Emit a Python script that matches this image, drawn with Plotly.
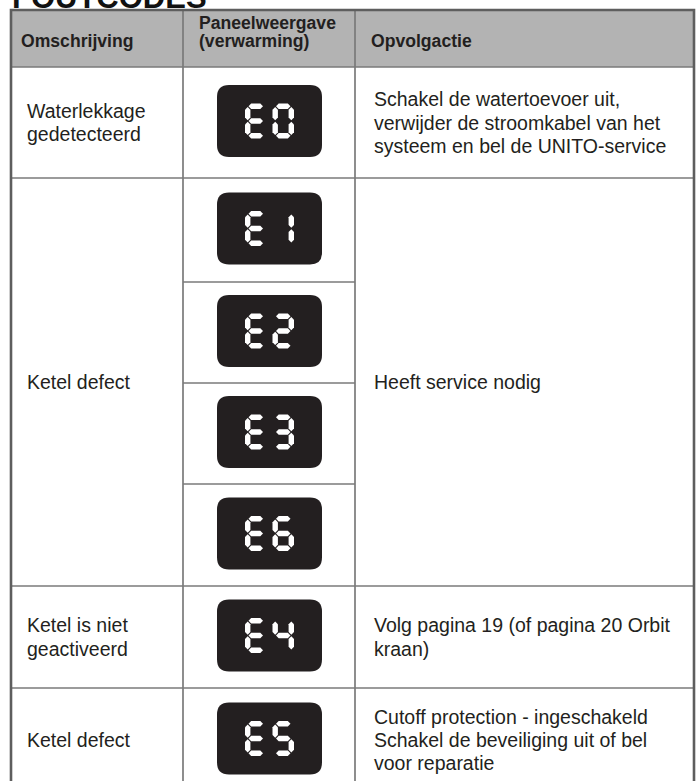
import plotly.graph_objects as go

# ---------------- data ----------------
title_text = "FOUTCODES"
headers = ["Omschrijving", "Paneelweergave\n(verwarming)", "Opvolgactie"]

descriptions = ["Waterlekkage\ngedetecteerd", "Ketel defect", "Ketel is niet\ngeactiveerd", "Ketel defect"]
description_spans = [1, 4, 1, 1]

codes = ["E0", "E1", "E2", "E3", "E6", "E4", "E5"]

actions = [
    "Schakel de watertoevoer uit,\nverwijder de stroomkabel van het\nsysteem en bel de UNITO-service",
    "Heeft service nodig",
    "Volg pagina 19 (of pagina 20 Orbit\nkraan)",
    "Cutoff protection - ingeschakeld\nSchakel de beveiliging uit of bel\nvoor reparatie",
]
action_spans = [1, 4, 1, 1]

# ---------------- layout geometry ----------------
W, H = 696, 781
col_edges = [11, 183, 355, 694]
row_edges = [10, 67, 178, 282, 383, 484, 586, 688, 792]   # header + 7 code rows

TEXT = "#231f20"
FONT = "Liberation Sans, Arial, Helvetica, sans-serif"
HEADER_FILL = "#b3b3b3"
LINE = "#7a7a7a"
OUTER = "#5e5e5e"

SEGMENTS = {
    "0": "abcdef", "1": "bc", "2": "abged", "3": "abgcd", "4": "fgbc",
    "5": "afgcd", "6": "afgedc", "7": "abc", "8": "abcdefg", "9": "abcdfg",
    "E": "adefg",
}

shapes = []
annotations = []

# header fill
shapes.append(dict(type="rect", xref="x", yref="y", x0=col_edges[0], x1=col_edges[-1],
                   y0=row_edges[0], y1=row_edges[1], fillcolor=HEADER_FILL, line=dict(width=0), layer="below"))

def hline(y, x0, x1, color=LINE, w=1.7):
    shapes.append(dict(type="line", xref="x", yref="y", x0=x0, x1=x1, y0=y, y1=y,
                       line=dict(color=color, width=w)))

def vline(x, y0, y1, color=LINE, w=1.7):
    shapes.append(dict(type="line", xref="x", yref="y", x0=x, x1=x, y0=y0, y1=y1,
                       line=dict(color=color, width=w)))

# row lines: full width at group boundaries, only middle column elsewhere
group_bounds = set()
idx = 1
for s in description_spans:
    group_bounds.add(idx)
    idx += s
group_bounds.add(idx)
for r in range(1, len(row_edges) - 1):
    if r in group_bounds:
        hline(row_edges[r], col_edges[0], col_edges[-1])
    else:
        hline(row_edges[r], col_edges[1], col_edges[2])

# column lines
vline(col_edges[1], row_edges[0], row_edges[-1])
vline(col_edges[2], row_edges[0], row_edges[-1])

# outer border
shapes.append(dict(type="rect", xref="x", yref="y", x0=col_edges[0], x1=col_edges[-1],
                   y0=row_edges[0], y1=row_edges[-1], line=dict(color=OUTER, width=2.6)))

def add_lines(text, x, yc, size, bold=False, spacing=23.3):
    lines = text.split("\n")
    n = len(lines)
    for i, ln in enumerate(lines):
        y = yc + (i - (n - 1) / 2) * spacing
        annotations.append(dict(
            xref="x", yref="y", x=x, y=y, xanchor="left", yanchor="middle",
            text=f"<b>{ln}</b>" if bold else ln, showarrow=False,
            font=dict(family=FONT, size=size, color=TEXT)))

# headers
header_x = [col_edges[0] + 8, col_edges[1] + 14, col_edges[2] + 14]
hy = (row_edges[0] + row_edges[1]) / 2
for hx, ht in zip(header_x, headers):
    if "\n" in ht:
        add_lines(ht, hx, hy - 6.5, 17.6, bold=True, spacing=18)
    else:
        add_lines(ht, hx, hy + 2, 17.6, bold=True)

# description & action column texts (spanning rows)
def place_spanning(texts, spans, x):
    r = 1
    for t, s in zip(texts, spans):
        y0, y1 = row_edges[r], row_edges[r + s]
        add_lines(t, x, (y0 + y1) / 2, 19.5)
        r += s

place_spanning(descriptions, description_spans, col_edges[0] + 14)
place_spanning(actions, action_spans, col_edges[2] + 17)

# panel displays
def rounded_rect(x0, y0, x1, y1, r):
    return (f"M{x0+r},{y0} L{x1-r},{y0} Q{x1},{y0} {x1},{y0+r} L{x1},{y1-r} "
            f"Q{x1},{y1} {x1-r},{y1} L{x0+r},{y1} Q{x0},{y1} {x0},{y1-r} "
            f"L{x0},{y0+r} Q{x0},{y0} {x0+r},{y0} Z")

def seg_poly(kind, ox, oy, dw, dh, t, g):
    h = t / 2
    def horiz(yc):
        x0, x1 = ox + h + g, ox + dw - h - g
        return [(x0, yc), (x0 + h, yc - h), (x1 - h, yc - h), (x1, yc), (x1 - h, yc + h), (x0 + h, yc + h)]
    def vert(xc, ya, yb):
        return [(xc, ya), (xc + h, ya + h), (xc + h, yb - h), (xc, yb), (xc - h, yb - h), (xc - h, ya + h)]
    mid = oy + dh / 2
    if kind == "a":
        return horiz(oy + h)
    if kind == "g":
        return horiz(mid)
    if kind == "d":
        return horiz(oy + dh - h)
    if kind == "f":
        return vert(ox + h, oy + h + g, mid - g)
    if kind == "e":
        return vert(ox + h, mid + g, oy + dh - h - g)
    if kind == "b":
        return vert(ox + dw - h, oy + h + g, mid - g)
    if kind == "c":
        return vert(ox + dw - h, mid + g, oy + dh - h - g)

def poly_path(pts):
    return "M" + " L".join(f"{x:.2f},{y:.2f}" for x, y in pts) + " Z"

box_w, box_h, radius = 105, 72, 12
dig_w, dig_h, dig_gap, seg_t, seg_g = 21.5, 35, 6, 5.4, 0.8
cx = (col_edges[1] + col_edges[2]) / 2 + 0.5
for i, code in enumerate(codes):
    cy = (row_edges[i + 1] + row_edges[i + 2]) / 2 - 1.5
    shapes.append(dict(type="path", xref="x", yref="y",
                       path=rounded_rect(cx - box_w / 2, cy - box_h / 2, cx + box_w / 2, cy + box_h / 2, radius),
                       fillcolor="#231f20", line=dict(width=0)))
    total = len(code) * dig_w + (len(code) - 1) * dig_gap
    ox = cx - total / 2
    for ch in code:
        for s in SEGMENTS[ch]:
            shapes.append(dict(type="path", xref="x", yref="y",
                               path=poly_path(seg_poly(s, ox, cy - dig_h / 2, dig_w, dig_h, seg_t, seg_g)),
                               fillcolor="#ffffff", line=dict(width=0)))
        ox += dig_w + dig_gap

# partially visible page title at the very top
annotations.append(dict(xref="x", yref="paper", x=10, y=1, xanchor="left", yanchor="middle",
                        yshift=3, text=f"<b>{title_text}</b>", showarrow=False,
                        font=dict(family=FONT, size=31, color="#111111")))

fig = go.Figure()
fig.add_trace(go.Scatter(x=[0, W], y=[0, H], mode="markers", marker=dict(opacity=0),
                         hoverinfo="skip", showlegend=False))
fig.update_layout(
    width=W, height=H, autosize=False,
    margin=dict(l=0, r=0, t=0, b=0),
    paper_bgcolor="white", plot_bgcolor="white",
    xaxis=dict(range=[0, W], visible=False, fixedrange=True),
    yaxis=dict(range=[H, 0], visible=False, fixedrange=True),
    shapes=shapes, annotations=annotations, showlegend=False,
)
fig.write_html("out.html", config={"displayModeBar": False},
               post_script="document.body.style.margin='0';document.body.style.overflow='hidden';")
